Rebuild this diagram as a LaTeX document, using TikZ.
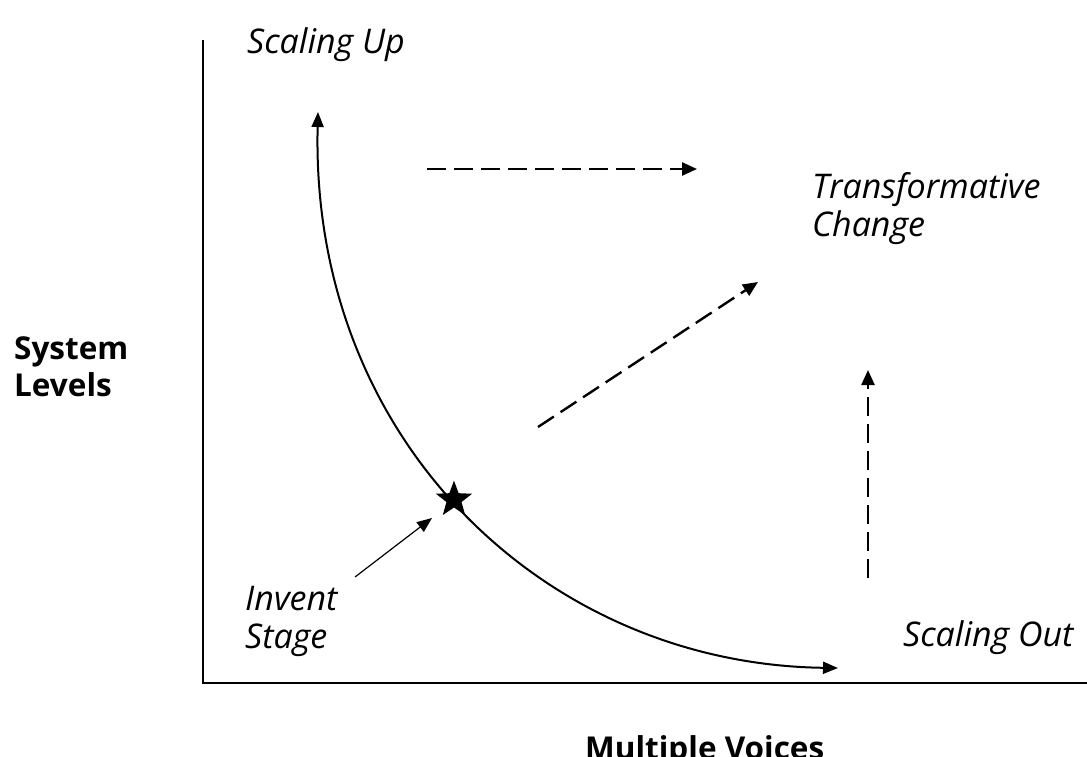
\documentclass[tikz,border=0pt]{standalone}
\usepackage{fontspec}
\setmainfont{Open Sans}
\usetikzlibrary{arrows.meta,shapes.geometric}
\tikzset{
  axisline/.style={line width=2pt},
  dasharrow/.style={line width=2.4pt, dash pattern=on 19pt off 8pt, -{Triangle[length=15pt,width=13pt]}},
  lbl/.style={font=\fontsize{34}{38}\selectfont\itshape, inner sep=0pt, anchor=base west, align=left},
  axlbl/.style={font=\fontsize{31.5}{37}\selectfont\bfseries, inner sep=0pt, anchor=base west, align=left},
  starmark/.style={star, star points=5, star point ratio=2.4, fill=black, inner sep=0pt, minimum size=38pt}
}
\begin{document}
\begin{tikzpicture}[x=1pt,y=-1pt]
\useasboundingbox (0,0) rectangle (1087,757);
\clip (0,0) rectangle (1087,757);
% axes
\coordinate (ytop) at (203,40);
\coordinate (orig) at (203,683);
\coordinate (xend) at (1087,683);
\draw[axisline] (ytop) -- (orig) -- (xend);
% labels (base anchor = baseline of last line)
\node[lbl] (su) at (247,54) {Scaling Up};
\node[lbl] (tc) at (812,236) {Transformative\\Change};
\node[axlbl] (sl) at (14,396) {System\\Levels};
\node[lbl] (is) at (245,648) {Invent\\Stage};
\node[lbl] (so) at (903,646) {Scaling Out};
\node[axlbl] (mv) at (585,759) {Multiple Voices};
% main curve
\coordinate (cup) at (318,112);
\coordinate (cout) at (838,668);
\draw[line width=2pt, {Triangle[length=15pt,width=12pt]}-{Triangle[length=15pt,width=12pt]}]
  (cup) .. controls (310,440) and (545,664) .. (cout)
  node[starmark, pos=0.48] (st) {};
% invent arrow
\coordinate (ia) at (355,577);
\coordinate (ib) at (432,518);
\draw[line width=1.2pt, -{Triangle[length=15pt,width=12pt]}] (ia) -- (ib);
% dashed arrows
\coordinate (h1) at (427,169);
\coordinate (h2) at (697,169);
\draw[dasharrow] (h1) -- (h2);
\coordinate (d1) at (538,427);
\coordinate (d2) at (758,282);
\draw[dasharrow] (d1) -- (d2);
\coordinate (v1) at (868,578);
\coordinate (v2) at (868,370);
\draw[dasharrow] (v1) -- (v2);
\end{tikzpicture}
\end{document}
